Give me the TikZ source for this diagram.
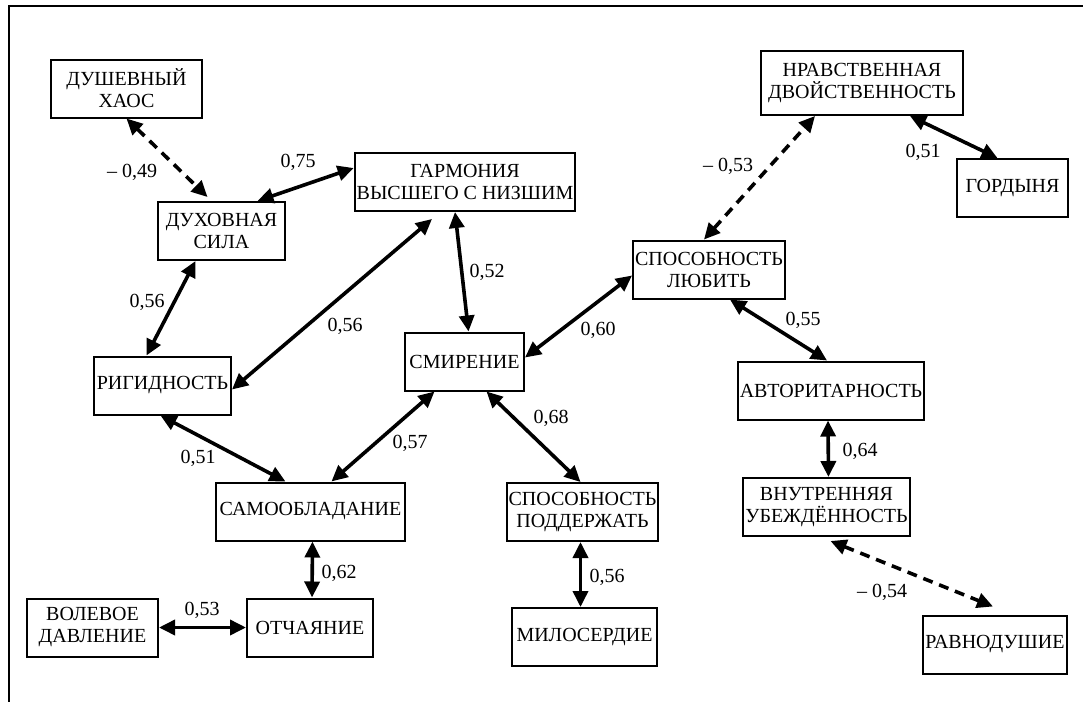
\documentclass[tikz,border=0pt]{standalone}
\usepackage{fontspec}
\setmainfont{Liberation Serif}
\usetikzlibrary{arrows.meta}

\tikzstyle{factor} = [rectangle,draw,line width=1pt,minimum height=29pt,inner sep=1pt,align=center,font=\fontsize{10}{11}\selectfont]
\tikzstyle{corr} = [line width=1.8pt,{Triangle[length=8pt,width=7.5pt]}-{Triangle[length=8pt,width=7.5pt]}]
\tikzstyle{neg} = [corr,dash pattern=on 5pt off 3.5pt]
\tikzstyle{coef} = [inner sep=0pt,font=\fontsize{10}{11}\selectfont]

\begin{document}
\begin{tikzpicture}[x=0.5pt,y=-0.5pt]
	\useasboundingbox (0,0) rectangle (1083,702);
	\draw[line width=1pt] (9,702) -- (9,6) -- (1083,6);
	% factors
	\node[factor,minimum width=75.5pt] (haos) at (126.5,88.5) {ДУШЕВНЫЙ\\ХАОС};
	\node[factor,minimum width=63.5pt] (sila) at (221.5,231) {ДУХОВНАЯ\\СИЛА};
	\node[factor,minimum width=107pt] (garm) at (465,182) {ГАРМОНИЯ\\ВЫСШЕГО С НИЗШИМ};
	\node[factor,minimum width=59.5pt] (smir) at (464.5,361.5) {СМИРЕНИЕ};
	\node[factor,minimum width=74pt] (lub) at (709,269.5) {СПОСОБНОСТЬ\\ЛЮБИТЬ};
	\node[factor,minimum width=101pt,minimum height=32pt] (nrav) at (862,83) {НРАВСТВЕННАЯ\\ДВОЙСТВЕННОСТЬ};
	\node[factor,minimum width=55.5pt] (gord) at (1012.5,188) {ГОРДЫНЯ};
	\node[factor,minimum width=68.5pt] (rig) at (162.5,385.5) {РИГИДНОСТЬ};
	\node[factor,minimum width=94.5pt] (samo) at (310.5,511.5) {САМООБЛАДАНИЕ};
	\node[factor,minimum width=63pt] (otch) at (310,627.5) {ОТЧАЯНИЕ};
	\node[factor,minimum width=65.5pt] (vol) at (92.5,627.5) {ВОЛЕВОЕ\\ДАВЛЕНИЕ};
	\node[factor,minimum width=74.5pt] (podd) at (582.5,512) {СПОСОБНОСТЬ\\ПОДДЕРЖАТЬ};
	\node[factor,minimum width=72.5pt] (milo) at (584.5,637) {МИЛОСЕРДИЕ};
	\node[factor,minimum width=93pt] (avt) at (831,390.5) {АВТОРИТАРНОСТЬ};
	\node[factor,minimum width=83.5pt] (ubezh) at (826.5,507) {ВНУТРЕННЯЯ\\УБЕЖДЁННОСТЬ};
	\node[factor,minimum width=71pt] (ravn) at (995,644.5) {РАВНОДУШИЕ};
	% correlations
	\draw[neg] (haos.south) -- ([xshift=-7pt,yshift=2pt]sila.north);
	\draw[corr] ([xshift=18pt]sila.north) -- ([yshift=7pt]garm.west);
	\draw[corr] ([xshift=-5pt]garm.south) -- ([xshift=2pt]smir.north);
	\draw[corr] ([xshift=-16.5pt,yshift=-3.5pt]garm.south) -- ([yshift=-2pt]rig.east);
	\draw[corr] ([xshift=-13pt]sila.south) -- ([xshift=-8pt]rig.north);
	\draw[corr] ([yshift=2pt]smir.east) -- ([yshift=-3pt]lub.west);
	\draw[neg] ([xshift=-2.5pt]lub.north) -- ([xshift=-23.5pt]nrav.south);
	\draw[corr] ([xshift=24pt]nrav.south) -- ([xshift=-7.5pt]gord.north);
	\draw[corr] ([xshift=10.5pt]lub.south) -- ([xshift=-2pt]avt.north);
	\draw[corr] ([xshift=-1.5pt]avt.south) -- ([xshift=1pt]ubezh.north);
	\draw[neg] ([xshift=2pt,yshift=-2pt]ubezh.south) -- ([xshift=-1pt,yshift=4pt]ravn.north);
	\draw[corr] ([xshift=-1pt]rig.south) -- ([xshift=-12.5pt]samo.north);
	\draw[corr] ([xshift=10.5pt]samo.north) -- ([xshift=-15pt]smir.south);
	\draw[corr] ([xshift=11pt]smir.south) -- ([xshift=-1pt]podd.north);
	\draw[corr] ([xshift=1pt]samo.south) -- ([xshift=1pt]otch.north);
	\draw[corr] (vol.east) -- (otch.west);
	\draw[corr] ([xshift=-1pt]podd.south) -- ([xshift=-2pt]milo.north);
	% coefficients
	\node[coef] (k1) at (132,172) {– 0,49};
	\node[coef] (k2) at (298,162) {0,75};
	\node[coef] (k3) at (487,272) {0,52};
	\node[coef] (k4) at (345,326) {0,56};
	\node[coef] (k5) at (147,302) {0,56};
	\node[coef] (k6) at (598,330) {0,60};
	\node[coef] (k7) at (728,166) {– 0,53};
	\node[coef] (k8) at (923,152) {0,51};
	\node[coef] (k9) at (803,320) {0,55};
	\node[coef] (k10) at (860,451) {0,64};
	\node[coef] (k11) at (882,592) {– 0,54};
	\node[coef] (k12) at (198,458) {0,51};
	\node[coef] (k13) at (410,443) {0,57};
	\node[coef] (k14) at (551,418) {0,68};
	\node[coef] (k15) at (339,573) {0,62};
	\node[coef] (k16) at (202,610) {0,53};
	\node[coef] (k17) at (607,577) {0,56};
\end{tikzpicture}
\end{document}
